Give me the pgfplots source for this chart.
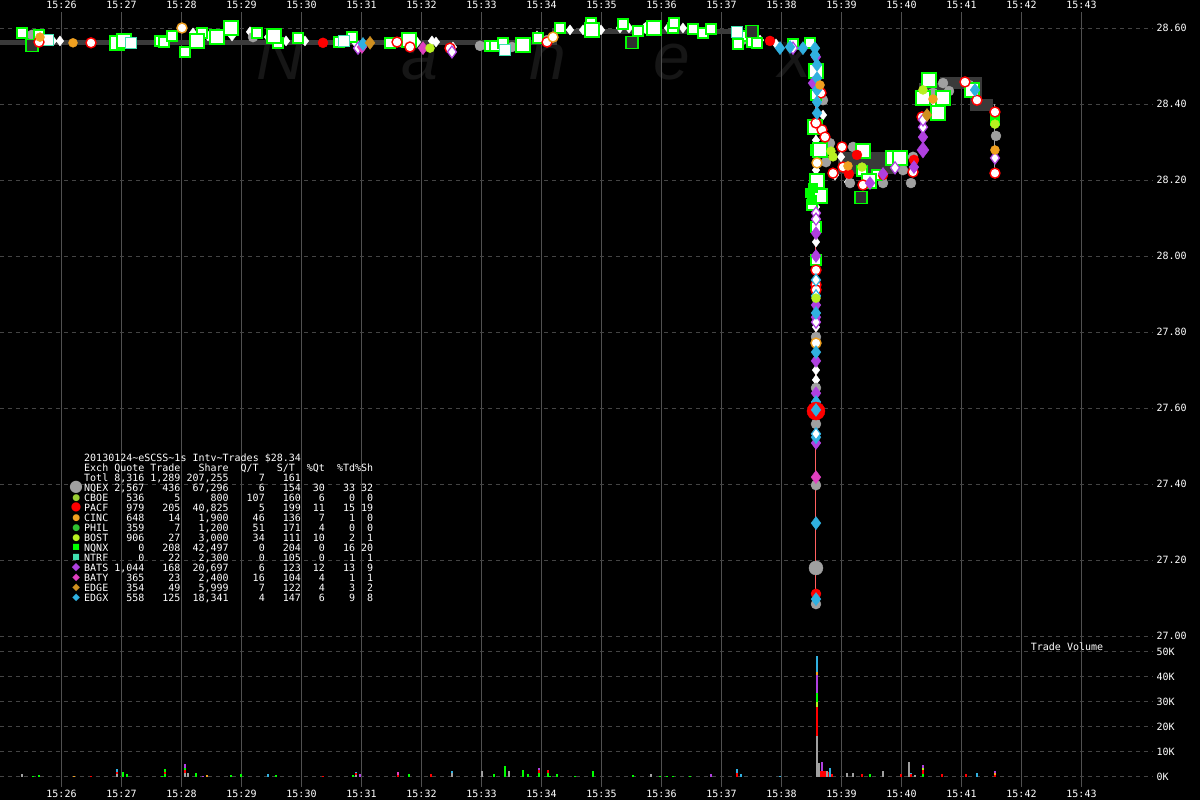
\documentclass[border=0pt]{standalone}
\usepackage{pgfplots}
\pgfplotsset{compat=1.18}
\usepackage{fontspec}
\setmainfont{DejaVu Sans Mono}
\newfontfamily\wmfont{Liberation Sans}
\newfontfamily\symfont{DejaVu Sans}
\definecolor{gridv}{HTML}{505050}
\definecolor{gridh}{HTML}{444444}
\definecolor{quote}{HTML}{3A3A3A}
\definecolor{nqex}{HTML}{A0A0A0}
\definecolor{nqnx}{HTML}{00FF00}
\definecolor{pacf}{HTML}{FF0000}
\definecolor{bats}{HTML}{B040E0}
\definecolor{baty}{HTML}{E040C0}
\definecolor{edgx}{HTML}{30B0E0}
\definecolor{edge}{HTML}{D09020}
\definecolor{cinc}{HTML}{F0A020}
\definecolor{bost}{HTML}{B8F020}
\definecolor{cboe}{HTML}{9ACD32}
\definecolor{phil}{HTML}{30C030}
\definecolor{ntrf}{HTML}{40E0B0}
\definecolor{crash}{HTML}{FF6060}
\definecolor{darksq}{HTML}{303030}
\definecolor{wm}{HTML}{161616}
\newlength\cw
\setlength\cw{6.02pt}
\newcommand\lrow[9]{\makebox[4\cw][l]{#1}\makebox[6\cw][r]{#2}\makebox[6\cw][r]{#3}\makebox[8\cw][r]{#4}\makebox[6\cw][r]{#5}\makebox[6\cw][r]{#6}\makebox[4\cw][r]{#7}\makebox[5\cw][r]{#8}\makebox[3\cw][r]{#9}}
\newcommand\mk[3]{\makebox[16pt][c]{\smash{\raisebox{1.1pt}{$\vcenter{\hbox{\symfont\fontsize{#2}{#2}\selectfont\color{#1}#3}}$}}}}
\pgfplotsset{
  base/.style={
    scale only axis, width=1153pt,
    xmin=24.975, xmax=44.1917,
    axis line style={draw=none}, major tick length=0pt,
    xtick={26,27,...,43},
    xticklabels={15:26,15:27,15:28,15:29,15:30,15:31,15:32,15:33,15:34,15:35,15:36,15:37,15:38,15:39,15:40,15:41,15:42,15:43},
    yticklabel pos=right,
    ticklabel style={font=\fontsize{10}{12}\selectfont, text=white},
    /pgf/number format/assume math mode=true,
    xmajorgrids, ymajorgrids,
    x grid style={gridv, line width=1pt},
    y grid style={gridh, line width=0.8pt, dash pattern=on 4pt off 4pt},
  },
  sqbig/.style={only marks, mark=square*, mark size=7pt, mark options={fill=white, draw=nqnx, line width=1.4pt}},
  sqsm/.style={only marks, mark=square*, mark size=5pt, mark options={fill=white, draw=nqnx, line width=1.4pt}},
  sqntrf/.style={only marks, mark=square*, mark size=5.5pt, mark options={fill=white, draw=ntrf, line width=1.4pt}},
  sqdark/.style={only marks, mark=square*, mark size=6pt, mark options={fill=darksq, draw=nqnx, line width=1.2pt}},
  sqgreen/.style={only marks, mark=square*, mark size=4.5pt, mark options={fill=nqnx, draw=nqnx}},
  gcirc/.style={only marks, mark=*, mark size=5pt, mark options={fill=nqex, draw=nqex}},
  rwcirc/.style={only marks, mark=*, mark size=5pt, mark options={fill=white, draw=pacf, line width=1.4pt}},
  owcirc/.style={only marks, mark=*, mark size=5pt, mark options={fill=white, draw=cinc, line width=1.4pt}},
  rcirc/.style={only marks, mark=*, mark size=5pt, mark options={fill=pacf, draw=pacf}},
  pdia/.style={only marks, mark=diamond*, mark size=6.5pt, mark options={fill=bats, draw=bats}},
  pwdia/.style={only marks, mark=diamond*, mark size=6pt, mark options={fill=white, draw=bats, line width=1.2pt}},
  mdia/.style={only marks, mark=diamond*, mark size=6.5pt, mark options={fill=baty, draw=baty}},
  cdia/.style={only marks, mark=diamond*, mark size=6.5pt, mark options={fill=edgx, draw=edgx}},
  cwdia/.style={only marks, mark=diamond*, mark size=6pt, mark options={fill=white, draw=edgx, line width=1.2pt}},
  edia/.style={only marks, mark=diamond*, mark size=6.5pt, mark options={fill=edge, draw=edge}},
  wdia/.style={only marks, mark=diamond*, mark size=5pt, mark options={fill=white, draw=white}},
  ocirc/.style={only marks, mark=*, mark size=4.5pt, mark options={fill=cinc, draw=cinc}},
  ycirc/.style={only marks, mark=*, mark size=4.5pt, mark options={fill=bost, draw=bost}},
  vb/.style={ycomb, no marks, line width=2pt},
}
\begin{document}
\begin{tikzpicture}
\fill[black] (0,0) rectangle (1200pt,-800pt);
% watermark
\begin{scope}[every node/.style={text=wm, font=\wmfont\itshape\fontsize{66}{66}\selectfont}]
\node at (280pt,-57pt) {N};
\node at (420pt,-62pt) {a};
\node at (548pt,-62pt) {n};
\node at (672pt,-62pt) {e};
\node at (795pt,-60pt) {x};
\end{scope}

% ---------------- price panel ----------------
\begin{axis}[base, at={(0pt,-12pt)}, anchor=north west, height=628pt,
  ymin=26.9895, ymax=28.6421,
  xticklabel pos=right,
  ytick={27,27.2,27.4,27.6,27.8,28,28.2,28.4,28.6},
  yticklabel style={/pgf/number format/.cd, fixed, fixed zerofill, precision=2},
]
% quote bands
\addplot[const plot, quote, line width=5pt] coordinates {(24.975,28.563) (34.22,28.592) (37.35,28.592)};
\addplot[const plot, quote, line width=22pt] coordinates {(38.95,28.245) (39.9,28.245)};
\addplot[const plot, quote, line width=12pt] coordinates {(40.3,28.44) (40.75,28.455) (41.25,28.398) (41.52,28.398)};
% crash line
\addplot[crash, line width=1pt] coordinates {(38.575,28.55) (38.575,27.09)};
\addplot[nqex, line width=1pt] coordinates {(41.558,28.40) (41.558,28.22)};
% white small diamonds
\addplot[wdia] coordinates {
(25.858,28.566) (25.975,28.566) (28.192,28.587) (28.442,28.579) (28.842,28.579) (29.142,28.590)
(29.442,28.576) (29.742,28.566) (30.058,28.566) (30.892,28.563) (31.642,28.563) (31.925,28.563)
(32.175,28.566) (32.242,28.563) (32.525,28.550) (33.925,28.579) (34.475,28.595) (34.692,28.595)
(34.992,28.595) (35.308,28.600) (35.458,28.600) (36.108,28.600) (36.358,28.600) (37.642,28.568)
(37.908,28.558) (38.575,28.129) (38.575,28.037) (38.575,27.813) (38.575,28.305) (38.575,28.226)
(38.692,28.371) (38.992,28.261) (39.108,28.195) (38.892,28.213) (40.558,28.403) (40.775,28.432)
(38.575,27.700) (38.575,27.674)};
\addplot[only marks, mark=*, mark size=6pt, mark options={fill=white, draw=white}] coordinates {(35.775,28.600)};
% gray circles
\addplot[gcirc] coordinates {
(25.508,28.582) (29.192,28.576) (31.808,28.563) (32.975,28.553) (33.508,28.550) (34.092,28.568)
(37.342,28.568) (38.692,28.410) (38.808,28.297) (39.192,28.287) (39.142,28.192) (39.692,28.192)
(40.025,28.226) (40.158,28.192) (40.192,28.261) (40.692,28.455) (40.792,28.434) (40.525,28.429)
(41.125,28.450) (41.575,28.316) (38.575,27.982) (38.575,27.787) (38.575,27.653) (38.575,27.558)
(38.575,27.397) (38.575,27.084) (38.742,28.247)};
\addplot[only marks, mark=*, mark size=7pt, mark options={fill=nqex, draw=nqex}] coordinates {(38.575,27.179)};
% NQNX squares
\addplot[sqsm] coordinates {
(25.342,28.587) (25.625,28.582) (27.642,28.566) (27.708,28.563) (27.842,28.579) (28.058,28.537)
(28.342,28.587) (29.258,28.587) (29.608,28.561) (29.942,28.574) (30.625,28.563) (30.842,28.576)
(31.475,28.561) (33.142,28.553) (33.225,28.553) (33.358,28.561) (33.942,28.574) (34.308,28.600)
(34.825,28.613) (35.358,28.611) (35.608,28.592) (36.192,28.600) (36.208,28.613) (36.525,28.597)
(36.692,28.587) (36.825,28.597) (37.358,28.579) (37.508,28.563) (37.592,28.561) (37.275,28.558)
(38.192,28.558) (38.475,28.561) (38.575,28.424) (38.575,28.279) (38.575,28.187) (38.575,28.076)
(38.575,27.990) (39.342,28.224) (39.592,28.213) (38.508,28.134)};
\addplot[sqbig] coordinates {
(26.925,28.561) (27.042,28.566) (28.258,28.566) (28.592,28.576) (28.825,28.600) (29.542,28.579)
(31.792,28.568) (33.692,28.555) (34.842,28.595) (35.875,28.600) (38.575,28.487) (38.558,28.339)
(38.642,28.279) (39.358,28.276) (39.858,28.258) (39.975,28.258) (39.458,28.197) (38.592,28.197)
(38.642,28.158) (40.358,28.416) (40.458,28.463) (40.608,28.376) (40.692,28.416) (41.175,28.437)};
\addplot[sqntrf] coordinates {(25.775,28.568) (27.158,28.561) (30.708,28.566) (33.392,28.542) (37.258,28.590)};
\addplot[sqdark] coordinates {(25.508,28.553) (35.508,28.561) (37.508,28.590) (39.325,28.153)};
\addplot[sqgreen] coordinates {(38.475,28.166) (38.508,28.147) (38.525,28.179) (41.558,28.366) (41.558,28.355)};
% PACF
\addplot[rwcirc] coordinates {
(25.625,28.563) (26.492,28.561) (31.592,28.563) (31.808,28.550) (32.475,28.547) (34.092,28.563)
(38.658,28.429) (38.675,28.332) (38.725,28.313) (39.008,28.287) (38.858,28.218) (39.025,28.234)
(39.358,28.187) (40.192,28.221) (40.342,28.366) (41.058,28.458) (41.258,28.410) (41.558,28.379)
(41.558,28.218) (38.575,27.963) (38.575,27.924) (38.575,27.911) (38.575,28.350)};
\addplot[owcirc] coordinates {(28.008,28.600) (34.192,28.576) (38.575,27.771) (38.592,28.245)};
\addplot[rcirc] coordinates {(30.358,28.561) (37.808,28.566) (39.258,28.266) (39.125,28.216) (39.692,28.213) (40.208,28.253) (38.575,27.111)};
% BATS / BATY
\addplot[pdia] coordinates {
(38.575,28.524) (38.525,28.455) (39.692,28.216) (40.208,28.234) (40.358,28.313) (39.475,28.192)
(38.575,28.000) (38.575,27.871) (38.575,27.839) (38.575,27.724) (38.575,27.639) (38.575,27.508)
(38.575,28.060)};
\addplot[only marks, mark=diamond*, mark size=8pt, mark options={fill=bats, draw=bats}] coordinates {(40.358,28.279)};
\addplot[pwdia] coordinates {
(30.942,28.547) (32.508,28.537) (38.575,28.113) (38.575,28.097) (38.575,27.826) (39.892,28.232)
(40.358,28.339) (40.358,28.358) (41.558,28.258) (38.192,28.547)};
\addplot[mdia] coordinates {(38.575,27.418) (32.025,28.547) (31.008,28.550)};
% EDGX / EDGE
\addplot[cdia] coordinates {
(31.025,28.558) (37.975,28.547) (38.142,28.550) (38.358,28.547) (38.558,28.547) (38.558,28.529)
(38.592,28.503) (38.592,28.468) (38.592,28.437) (38.592,28.405) (38.592,28.376) (38.575,27.850)
(38.575,27.747) (38.575,27.616) (38.575,27.523) (38.575,27.297) (38.575,27.097) (41.225,28.437)};
\addplot[cwdia] coordinates {(38.575,27.937) (38.575,27.532) (38.575,27.895)};
\addplot[edia] coordinates {(31.142,28.561) (40.425,28.371)};
% CINC / BOST
\addplot[ocirc] coordinates {(25.642,28.576) (26.192,28.561) (38.642,28.450) (39.108,28.237) (40.525,28.413) (41.558,28.279)};
\addplot[ycirc] coordinates {(32.142,28.547) (38.825,28.276) (38.858,28.261) (39.342,28.234) (40.358,28.437) (41.558,28.347) (38.575,27.889)};
% big red
\addplot[only marks, mark=*, mark size=9pt, mark options={fill=pacf, draw=pacf}] coordinates {(38.575,27.592)};
\addplot[cdia] coordinates {(38.575,27.595)};
\end{axis}

% ---------------- volume panel ----------------
\begin{axis}[base, at={(0pt,-640pt)}, anchor=north west, height=147pt,
  ymin=-4.12, ymax=54.68,
  ytick={0,10,20,30,40,50},
  yticklabels={0K,10K,20K,30K,40K,50K},
]
% layer 1
\addplot[vb, edgx] coordinates {(26.933,3.2) (32.515,2.1) (30.908,2.0) (37.258,3.0) (38.585,48.3) (38.605,5.0) (38.808,3.4) (40.155,1.6) (41.258,1.6) (29.442,0.9) (37.321,0.9) (37.975,0.4)};
\addplot[vb, nqnx] coordinates {(27.718,3.2) (25.517,0.3) (25.632,0.6) (27.017,1.9) (27.098,1.0) (27.675,0.3) (28.242,1.5) (28.833,0.5) (29.0,1.2) (29.575,0.5) (30.855,0.8) (31.8,1.2) (33.203,1.0) (33.4,4.4) (33.692,2.5) (33.775,1.2) (34.255,1.2) (34.862,2.1) (35.517,0.7) (35.975,0.3) (36.475,0.3) (39.472,1.2) (34.142,0.3) (34.558,0.3) (36.1,0.3) (36.2,0.3)};
\addplot[vb, bats] coordinates {(28.062,5.2) (33.955,3.4) (38.668,5.7) (40.365,4.5) (28.355,0.3) (30.975,0.9) (36.832,0.9) (41.563,2.1)};
\addplot[vb, pacf] coordinates {(34.115,2.8) (26.492,0.3) (30.358,0.3) (32.158,1.0) (38.65,2.2) (38.70,2.2) (38.733,2.2) (38.777,2.0) (38.85,1.2) (39.35,1.2) (39.988,1.1) (41.067,1.2) (40.683,1.2)};
\addplot[vb, nqex] coordinates {(25.338,0.9) (28.113,1.4) (33.012,2.1) (33.465,2.2) (35.825,1.1) (38.758,2.2) (39.088,1.3) (39.185,1.3) (39.692,2.1) (40.117,5.7) (40.225,0.5) (38.62,5.4)};
\addplot[vb, baty] coordinates {(31.608,1.7)};
\addplot[vb, cinc] coordinates {(26.208,0.3) (28.432,0.5)};
% layer 2
\addplot[vb, cinc] coordinates {(38.585,41.9) (41.563,1.3)};
\addplot[vb, pacf] coordinates {(26.933,2.0) (27.718,2.0) (30.908,1.3) (37.258,1.5) (38.668,2.2) (40.155,1.0) (31.608,0.8) (33.955,2.8)};
\addplot[vb, nqnx] coordinates {(28.062,3.6) (34.115,1.5)};
\addplot[vb, nqex] coordinates {(32.515,1.5) (38.605,4.0)};
\addplot[vb, bost] coordinates {(40.365,3.5)};
% layer 3
\addplot[vb, bats] coordinates {(38.585,40.7)};
\addplot[vb, pacf] coordinates {(28.062,2.5) (40.365,2.5) (41.563,0.7)};
\addplot[vb, nqnx] coordinates {(27.718,1.0) (33.955,1.5)};
\addplot[vb, nqex] coordinates {(26.933,1.0) (30.908,0.6)};
% layer 4+
\addplot[vb, nqnx] coordinates {(38.585,33.5) (40.365,1.2)};
\addplot[vb, nqex] coordinates {(28.062,1.5)};
\addplot[vb, bost] coordinates {(38.585,29.9)};
\addplot[vb, pacf] coordinates {(38.585,27.9)};
\addplot[vb, nqex] coordinates {(38.585,16.4)};
\end{axis}

\node[text=white, font=\fontsize{10}{12}\selectfont] at (1067pt,-647pt) {Trade Volume};

% legend block
\node[anchor=north west, inner sep=0pt, text=white, align=left, font=\fontsize{10}{10}\selectfont] at (68pt,-453.5pt) {%
\hspace*{16pt}20130124\textasciitilde eSCSS\textasciitilde 1s Intv\textasciitilde Trades \$28.34\\
\hspace*{16pt}\lrow{Exch}{Quote}{Trade}{Share}{Q/T\hphantom{0}}{S/T\hphantom{0}}{\%Qt}{\%Td}{\%Sh}\\
\hspace*{16pt}\lrow{Totl}{8,316}{1,289}{207,255}{7}{161}{}{}{}\\
\mk{nqex}{16}{●}\lrow{NQEX}{2,567}{436}{67,296}{6}{154}{30}{33}{32}\\
\mk{cboe}{9}{●}\lrow{CBOE}{536}{5}{800}{107}{160}{6}{0}{0}\\
\mk{pacf}{12}{●}\lrow{PACF}{979}{205}{40,825}{5}{199}{11}{15}{19}\\
\mk{cinc}{9}{●}\lrow{CINC}{648}{14}{1,900}{46}{136}{7}{1}{0}\\
\mk{phil}{9}{●}\lrow{PHIL}{359}{7}{1,200}{51}{171}{4}{0}{0}\\
\mk{bost}{9}{●}\lrow{BOST}{906}{27}{3,000}{34}{111}{10}{2}{1}\\
\mk{nqnx}{8}{■}\lrow{NQNX}{0}{208}{42,497}{0}{204}{0}{16}{20}\\
\mk{ntrf}{8}{■}\lrow{NTRF}{0}{22}{2,300}{0}{105}{0}{1}{1}\\
\mk{bats}{11}{◆}\lrow{BATS}{1,044}{168}{20,697}{6}{123}{12}{13}{9}\\
\mk{baty}{10}{◆}\lrow{BATY}{365}{23}{2,400}{16}{104}{4}{1}{1}\\
\mk{edge}{10}{◆}\lrow{EDGE}{354}{49}{5,999}{7}{122}{4}{3}{2}\\
\mk{edgx}{10}{◆}\lrow{EDGX}{558}{125}{18,341}{4}{147}{6}{9}{8}};

\pgfresetboundingbox
\useasboundingbox (0,0) rectangle (1200pt,-800pt);
\end{tikzpicture}
\end{document}
